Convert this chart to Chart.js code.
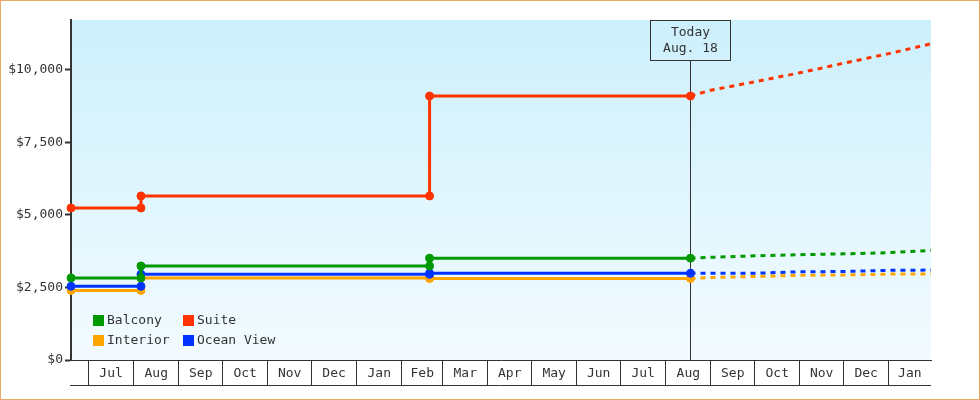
<!DOCTYPE html>
<html>
<head>
<meta charset="utf-8">
<script src="https://cdn.jsdelivr.net/npm/chart.js@4.4.1/dist/chart.umd.min.js"></script>
<style>
  html, body { margin: 0; padding: 0; background: #fff; }
  #wrap { width: 980px; height: 400px; box-sizing: border-box; border: 1px solid #e8aa66; position: relative; }
</style>
</head>
<body>
<div id="wrap"><canvas id="priceChart"></canvas></div>
<script>
const FONT = '"DejaVu Sans Mono", monospace';
const INK = '#333';

// x values are days counted from Jul 1 of the first year
const monthLabels = ['Jul', 'Aug', 'Sep', 'Oct', 'Nov', 'Dec', 'Jan', 'Feb', 'Mar', 'Apr',
    'May', 'Jun', 'Jul', 'Aug', 'Sep', 'Oct', 'Nov', 'Dec', 'Jan'];
const monthStarts = [0, 31, 62, 92, 123, 153, 184, 215, 243, 274, 304, 335,
    365, 396, 427, 457, 488, 518, 549, 580];
const firstDay = -12;
const lastDay = 578;
const todayDay = 413;
const todayText = ['Today', 'Aug. 18'];

// recorded prices
const priceDays = [-12, 36, 36, 234, 234, 413];
const balcony   = [2830, 2830, 3240, 3240, 3510, 3510];
const suite     = [5240, 5240, 5655, 5655, 9100, 9100];
const interior  = [2400, 2400, 2830, 2830, 2810, 2810];
const oceanView = [2540, 2540, 2955, 2955, 2990, 2990];

// projected prices
const forecastDays      = [413, 427, 457, 488, 518, 549, 578];
const balconyForecast   = [3510, 3540, 3590, 3630, 3660, 3700, 3780];
const suiteForecast     = [9100, 9300, 9590, 9900, 10230, 10560, 10900];
const interiorForecast  = [2810, 2840, 2880, 2920, 2930, 2960, 2970];
const oceanViewForecast = [2990, 2990, 2990, 3040, 3050, 3090, 3100];

const yTicks = [0, 2500, 5000, 7500, 10000];
const yMax = 11720;

const series = [
    { label: 'Balcony',    color: '#009900', actual: balcony,   forecast: balconyForecast,   order: 2 },
    { label: 'Suite',      color: '#ff3300', actual: suite,     forecast: suiteForecast,     order: 1 },
    { label: 'Interior',   color: '#ffa500', actual: interior,  forecast: interiorForecast,  order: 4 },
    { label: 'Ocean View', color: '#0033ff', actual: oceanView, forecast: oceanViewForecast, order: 3 }
];

const toPoints = (days, values) => days.map((d, i) => ({ x: d, y: values[i] }));

const datasets = [];
series.forEach(s => {
    datasets.push({
        label: s.label,
        data: toPoints(priceDays, s.actual),
        borderColor: s.color,
        backgroundColor: s.color,
        borderWidth: 3,
        pointRadius: 4,
        pointBorderWidth: 1,
        pointHoverRadius: 4,
        tension: 0,
        clip: false,
        order: s.order
    });
    datasets.push({
        label: s.label + ' forecast',
        forecast: true,
        data: toPoints(forecastDays, s.forecast),
        borderColor: s.color,
        borderWidth: 3,
        borderDash: [5, 5],
        pointRadius: 0,
        tension: 0,
        clip: false,
        order: s.order + 4
    });
});

const boundaryDays = monthStarts.filter(d => d > firstDay && d < lastDay);
const monthMids = monthLabels.map((m, i) =>
    (Math.max(monthStarts[i], firstDay) + Math.min(monthStarts[i + 1], lastDay)) / 2);

const backdrop = {
    id: 'backdrop',
    beforeDraw(chart) {
        const { ctx, chartArea: a } = chart;
        const g = ctx.createLinearGradient(0, a.top, 0, a.bottom);
        g.addColorStop(0, '#ccf0fc');
        g.addColorStop(1, '#f3fbff');
        ctx.save();
        ctx.fillStyle = g;
        ctx.fillRect(a.left, a.top, a.right - a.left, a.bottom - a.top);
        ctx.restore();
    }
};

const todayMarker = {
    id: 'todayMarker',
    beforeDatasetsDraw(chart) {
        const { ctx, chartArea: a } = chart;
        const x = Math.round(chart.scales.x.getPixelForValue(todayDay)) + 0.5;
        const top = a.top + 0.5;
        const boxH = 40;
        ctx.save();
        ctx.strokeStyle = INK;
        ctx.lineWidth = 1;
        ctx.strokeRect(x - 40, top, 80, boxH);
        ctx.beginPath();
        ctx.moveTo(x, top + boxH);
        ctx.lineTo(x, a.bottom);
        ctx.stroke();
        ctx.fillStyle = INK;
        ctx.font = '13px ' + FONT;
        ctx.textAlign = 'center';
        ctx.textBaseline = 'middle';
        ctx.fillText(todayText[0], x, top + 12);
        ctx.fillText(todayText[1], x, top + 28);
        ctx.restore();
    }
};

const boxLegend = {
    id: 'boxLegend',
    afterDatasetsDraw(chart) {
        const { ctx, chartArea: a } = chart;
        const items = chart.data.datasets.filter(d => !d.forecast);
        ctx.save();
        ctx.font = '13px ' + FONT;
        ctx.textBaseline = 'middle';
        items.forEach((d, i) => {
            const x = a.left + 22 + (i % 2) * 90;
            const y = a.bottom - 45 + Math.floor(i / 2) * 20;
            ctx.fillStyle = d.borderColor;
            ctx.fillRect(x, y, 11, 11);
            ctx.fillStyle = INK;
            ctx.fillText(d.label, x + 14, y + 6);
        });
        ctx.restore();
    }
};

const bandLine = {
    id: 'bandLine',
    afterDraw(chart) {
        const { ctx, chartArea: a } = chart;
        const y = chart.scales.x.top + 25.5;
        ctx.save();
        ctx.strokeStyle = INK;
        ctx.lineWidth = 1;
        ctx.beginPath();
        ctx.moveTo(a.left - 1, y);
        ctx.lineTo(a.right, y);
        ctx.stroke();
        ctx.restore();
    }
};

const priceChart = new Chart(document.getElementById('priceChart'), {
    type: 'line',
    data: { datasets },
    options: {
        responsive: true,
        maintainAspectRatio: false,
        animation: false,
        layout: { padding: { top: 19, right: 48, left: 0, bottom: 0 } },
        plugins: {
            legend: { display: false },
            tooltip: { enabled: false }
        },
        scales: {
            x: {
                type: 'linear',
                min: firstDay,
                max: lastDay,
                afterFit: scale => { scale.height = 39; },
                afterBuildTicks: scale => {
                    scale.ticks = boundaryDays.concat(monthMids)
                        .sort((p, q) => p - q)
                        .map(v => ({ value: v }));
                },
                ticks: {
                    autoSkip: false,
                    maxRotation: 0,
                    padding: -19,
                    color: INK,
                    font: { family: FONT, size: 13 },
                    callback: value => {
                        const i = monthMids.indexOf(value);
                        return i >= 0 ? monthLabels[i] : '';
                    }
                },
                grid: {
                    drawOnChartArea: false,
                    tickLength: 25,
                    tickWidth: 1,
                    tickColor: c => boundaryDays.includes(c.tick && c.tick.value) ? INK : 'rgba(0,0,0,0)'
                },
                border: { color: INK, width: 1 }
            },
            y: {
                min: 0,
                max: yMax,
                afterFit: scale => { scale.width = 70; },
                afterBuildTicks: scale => {
                    scale.ticks = yTicks.map(v => ({ value: v }));
                },
                ticks: {
                    padding: 2,
                    color: INK,
                    font: { family: FONT, size: 13 },
                    callback: value => '$' + value.toLocaleString('en-US')
                },
                grid: {
                    drawOnChartArea: false,
                    tickLength: 6,
                    tickWidth: 2,
                    tickColor: INK
                },
                border: { color: INK, width: 2 }
            }
        }
    },
    plugins: [backdrop, todayMarker, boxLegend, bandLine]
});
</script>
</body>
</html>
